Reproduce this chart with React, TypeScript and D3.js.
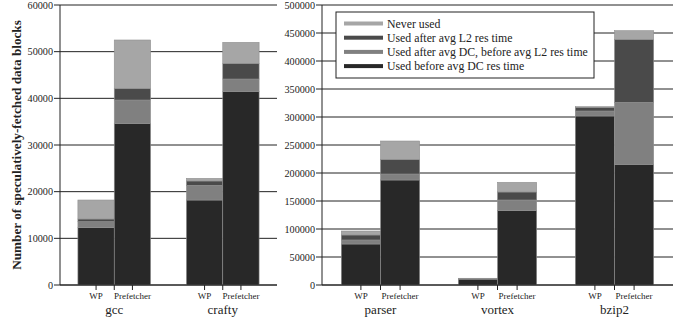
import React, { useEffect, useRef } from 'react';
import * as d3 from 'd3';

// stack order bottom -> top
const layers = [
  'Used before avg DC res time',
  'Used after avg DC, before avg L2 res time',
  'Used after avg L2 res time',
  'Never used',
];
const layerColors = ['#282828', '#808080', '#4a4a4a', '#a6a6a6'];
const legendOrder = [3, 2, 1, 0];

const configs = ['WP', 'Prefetcher'];

const leftBenchmarks = ['gcc', 'crafty'];
const leftValues = [
  // gcc WP, gcc Prefetcher
  [[12300, 1270, 570, 4070], [34640, 5000, 2500, 10360]],
  // crafty
  [[18210, 3150, 930, 570], [41500, 2640, 3360, 4500]],
];
const leftTicks = [0, 10000, 20000, 30000, 40000, 50000, 60000];

const rightBenchmarks = ['parser', 'vortex', 'bzip2'];
const rightValues = [
  [[73200, 7200, 8900, 7100], [187500, 10700, 26200, 32700]],
  [[10500, 500, 600, 400], [132700, 19100, 14300, 17300]],
  [[301800, 8900, 6600, 1100], [215500, 110700, 112500, 15500]],
];
const rightTicks = [0, 50000, 100000, 150000, 200000, 250000, 300000, 350000, 400000, 450000, 500000];

const W = 679;
const H = 321;
const FONT = "'Liberation Serif', serif";

const App = () => {
  const ref = useRef<SVGSVGElement>(null);

  useEffect(() => {
    const svg = d3.select(ref.current);
    svg.selectAll('*').remove();

    const top = 5, bottom = 285;

    const drawPanel = (x0: number, x1: number, max: number, ticks: number[], names: string[], vals: number[][][]) => {
      const y = d3.scaleLinear().domain([0, max]).range([bottom, top]);
      const x = d3.scaleBand().domain(names).range([x0, x1]).paddingInner(0.33).paddingOuter(0.165);
      const xi = d3.scaleBand().domain(configs).range([0, x.bandwidth()]);
      const g = svg.append('g');

      // grid
      g.selectAll('line.grid').data(ticks).join('line')
        .attr('x1', x0).attr('x2', x1)
        .attr('y1', d => y(d)).attr('y2', d => y(d))
        .attr('stroke', '#222').attr('stroke-width', 1);

      // y ticks + labels
      g.selectAll('line.yt').data(ticks).join('line')
        .attr('x1', x0 - 6).attr('x2', x0)
        .attr('y1', d => y(d)).attr('y2', d => y(d))
        .attr('stroke', '#222');
      g.selectAll('text.yl').data(ticks).join('text')
        .attr('x', x0 - 7).attr('y', d => y(d)).attr('dy', '0.35em')
        .attr('text-anchor', 'end').style('font-size', '10.2px').attr('fill', '#222')
        .text(d => d);

      // bars
      names.forEach((name, gi) => {
        configs.forEach((c, ci) => {
          const stack = vals[gi][ci];
          let acc = 0;
          stack.forEach((v, li) => {
            g.append('rect')
              .attr('x', x(name)! + xi(c)!)
              .attr('width', xi.bandwidth())
              .attr('y', y(acc + v))
              .attr('height', y(acc) - y(acc + v))
              .attr('fill', layerColors[li])
              .attr('stroke', '#909090').attr('stroke-width', 0.6);
            acc += v;
          });
          // tick under bar center
          const cx = x(name)! + xi(c)! + xi.bandwidth() / 2;
          g.append('line').attr('x1', cx).attr('x2', cx).attr('y1', bottom).attr('y2', bottom + 5).attr('stroke', '#222');
          g.append('text').attr('x', cx).attr('y', 299).attr('text-anchor', 'middle')
            .style('font-size', '9px').attr('fill', '#222').text(c);
        });
        const mid = x(name)! + x.bandwidth() / 2;
        g.append('line').attr('x1', mid).attr('x2', mid).attr('y1', bottom).attr('y2', bottom + 5).attr('stroke', '#222');
        g.append('text').attr('x', mid).attr('y', 314).attr('text-anchor', 'middle')
          .style('font-size', '13px').attr('fill', '#222').text(name);
      });

      // axes
      g.append('line').attr('x1', x0).attr('x2', x0).attr('y1', top).attr('y2', bottom).attr('stroke', '#222');
      g.append('line').attr('x1', x0).attr('x2', x1).attr('y1', bottom).attr('y2', bottom).attr('stroke', '#222');
    };

    drawPanel(60, 277, 60000, leftTicks, leftBenchmarks, leftValues);
    drawPanel(322, 673, 500000, rightTicks, rightBenchmarks, rightValues);

    // y title
    svg.append('text')
      .attr('transform', 'translate(21,145) rotate(-90)')
      .attr('text-anchor', 'middle').style('font-size', '13.2px').attr('font-weight', 'bold').attr('fill', '#222')
      .text('Number of speculatively-fetched data blocks');

    // legend
    const lg = svg.append('g');
    lg.append('rect').attr('x', 336).attr('y', 12).attr('width', 258).attr('height', 66)
      .attr('fill', '#fff').attr('stroke', '#222');
    legendOrder.forEach((li, i) => {
      const ly = 23.5 + i * 14.2;
      lg.append('rect').attr('x', 344).attr('y', ly - 2).attr('width', 39).attr('height', 4).attr('fill', layerColors[li]);
      lg.append('text').attr('x', 387).attr('y', ly).attr('dy', '0.35em')
        .style('font-size', '11.8px').attr('fill', '#222').text(layers[li]);
    });
  }, []);

  return <svg ref={ref} width={W} height={H} style={{ position: 'absolute', left: 0, top: 0, fontFamily: FONT }} />;
};

export default App;
